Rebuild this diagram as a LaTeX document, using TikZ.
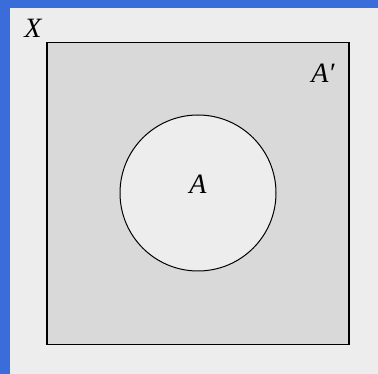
\documentclass[tikz,border=0pt]{standalone}
\usepackage{fontspec}
\newfontfamily\lbfont{Liberation Serif Italic}
\definecolor{bluebar}{RGB}{58,108,218}
\definecolor{bg}{RGB}{237,237,237}
\definecolor{setfill}{RGB}{217,217,217}
\begin{document}
\begin{tikzpicture}[x=1pt,y=-1pt,
  lbl/.style={font=\lbfont\fontsize{28}{32}\selectfont, inner sep=0pt}]
\useasboundingbox (0,0) rectangle (378,374);
\fill[bluebar] (0,0) rectangle (378,374);
\fill[bg] (10,8) rectangle (378,374);
\node[draw=black, line width=1.3pt, fill=setfill, minimum width=302pt, minimum height=302pt, inner sep=0pt] (X) at (198,193.5) {};
\node[draw=black, line width=1pt, fill=bg, circle, minimum size=156pt, inner sep=0pt] (A) at (198,193) {};
\node[lbl] (Xl) at (33,28) {X};
\node[lbl] (Ac) at (323,73) {A′};
\node[lbl] (Al) at (198,184) {A};
\end{tikzpicture}
\end{document}
